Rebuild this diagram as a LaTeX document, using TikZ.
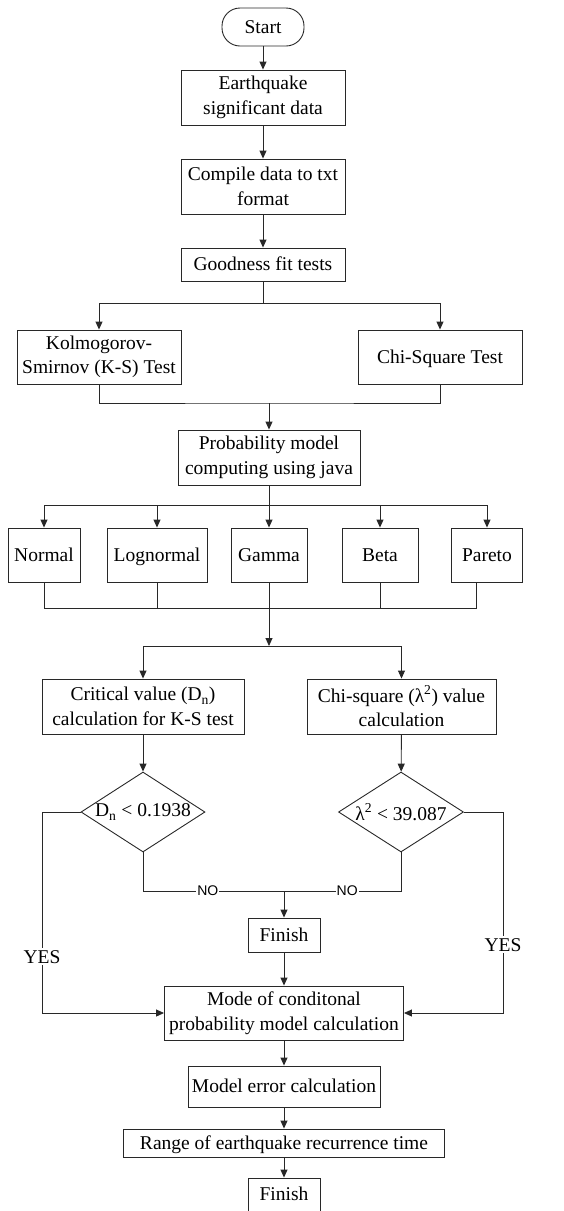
\documentclass[tikz,border=0pt]{standalone}
\usepackage{fontspec}
\setmainfont{Liberation Serif}
\newfontfamily\nofont{Liberation Sans}
\usepackage{tikz}
\usetikzlibrary{arrows.meta,shapes.geometric}
\definecolor{LineGray}{RGB}{40,40,40}
\tikzset{
  box/.style={draw=LineGray,line width=0.9pt,rectangle,inner sep=0pt,align=center,
    font=\fontsize{19.5}{24.5}\selectfont},
  one/.style={text height=13pt,text depth=1pt},
  term/.style={box,one,rounded corners=18pt},
  dec/.style={draw=LineGray,line width=0.9pt,diamond,inner sep=0pt,
    font=\fontsize{19.5}{24.5}\selectfont},
  link/.style={draw=LineGray,line width=0.9pt},
  arr/.style={link,-{Triangle[length=8pt,width=7pt]}},
  no/.style={fill=white,inner sep=1pt,font=\nofont\fontsize{14}{14}\selectfont},
  yes/.style={fill=white,inner sep=2pt,font=\fontsize{19.5}{24.5}\selectfont},
}

\begin{document}
\begin{tikzpicture}[x=1pt,y=-1pt]
\useasboundingbox (0,0) rectangle (563,1211);
\node[term,minimum width=82pt,minimum height=38pt] (start) at (263,27) {Start};
\node[box,minimum width=164pt,minimum height=55pt] (earth) at (263,97.5) {Earthquake\\significant data};
\node[box,minimum width=164pt,minimum height=55pt] (compile) at (263,186.5) {Compile data to txt\\format};
\node[box,one,minimum width=164pt,minimum height=33pt] (good) at (263,264.5) {Goodness fit tests};
\node[box,minimum width=164pt,minimum height=54pt] (ks) at (99,357) {Kolmogorov-\\Smirnov (K-S) Test};
\node[box,one,minimum width=164pt,minimum height=54pt] (chi) at (440,357) {Chi-Square Test};
\node[box,minimum width=182pt,minimum height=55pt] (prob) at (269,457.5) {Probability model\\computing using java};
\node[box,one,minimum width=72pt,minimum height=54pt] (normal) at (44,555) {Normal};
\node[box,one,minimum width=100pt,minimum height=54pt] (lognormal) at (157,555) {Lognormal};
\node[box,one,minimum width=76pt,minimum height=54pt] (gamma) at (269,555) {Gamma};
\node[box,one,minimum width=76pt,minimum height=54pt] (beta) at (380,555) {Beta};
\node[box,one,minimum width=71pt,minimum height=54pt] (pareto) at (487,555) {Pareto};
\node[box,minimum width=202pt,minimum height=55pt] (crit) at (143,706.5) {Critical value (D\textsubscript{n})\\calculation for K-S test};
\node[box,minimum width=189pt,minimum height=55pt] (chival) at (401.5,706.5) {Chi-square (λ\textsuperscript{2}) value\\calculation};
\node[dec,minimum width=124pt,minimum height=80pt] (d1) at (143,812) {\makebox[0pt]{D\textsubscript{n} < 0.1938}};
\node[dec,minimum width=125pt,minimum height=80pt] (d2) at (401,812) {\makebox[0pt]{λ\textsuperscript{2} < 39.087}};
\node[box,one,minimum width=72pt,minimum height=34pt] (fin1) at (284,935) {Finish};
\node[box,minimum width=239pt,minimum height=54pt] (mode) at (284,1013) {Mode of conditonal\\probability model calculation};
\node[box,one,minimum width=192pt,minimum height=41pt] (err) at (284,1086.5) {Model error calculation};
\node[box,one,minimum width=321pt,minimum height=28pt] (range) at (284,1143) {Range of earthquake recurrence time};
\node[box,one,minimum width=72pt,minimum height=33pt] (fin2) at (284,1194.5) {Finish};

\coordinate (gsplit) at (263,303);
\coordinate (tmerge) at (269,403);
\coordinate (psplit) at (269,505);
\coordinate (dmerge) at (269,608);
\coordinate (csplit) at (269,646);
\coordinate (lbend) at (42,1013);
\coordinate (rbend) at (503,1013);
\coordinate (njoin) at (284,891);

\draw[arr] (start) -- (earth);
\draw[arr] (earth) -- (compile);
\draw[arr] (compile) -- (good);
\draw[link] (good) -- (gsplit);
\draw[arr] (gsplit) -| (ks);
\draw[arr] (gsplit) -| (chi);
\draw[link] (ks) |- (tmerge) -| (chi);
\draw[arr] (tmerge) -- (prob);
\draw[link] (prob) -- (psplit);
\foreach \m in {normal,lognormal,gamma,beta,pareto}
  \draw[arr] (psplit) -| (\m);
\foreach \m in {normal,lognormal,gamma,beta}
  \draw[link] (\m) |- (dmerge);
\draw[link] ([xshift=-11pt]pareto.south) |- (dmerge);
\draw[arr] (dmerge) -- (csplit);
\draw[arr] (csplit) -| (crit);
\draw[arr] (csplit) -| (chival);
\draw[arr] (crit) -- (d1);
\draw[arr] (chival) -- (d2);
\draw[arr] (d1.west) -| (lbend) node[yes,pos=0.86] {YES} -- (mode.west);
\draw[arr] (d2.east) -| (rbend) node[yes,pos=0.83] {YES} -- (mode.east);
\draw[link] (d1.south) |- (njoin) node[no,pos=0.73] {NO};
\draw[link] (d2.south) |- (njoin) node[no,pos=0.73] {NO};
\draw[arr] (njoin) -- (fin1);
\draw[arr] (fin1) -- (mode);
\draw[arr] (mode) -- (err);
\draw[arr] (err) -- (range);
\draw[arr] (range) -- (fin2);
\end{tikzpicture}
\end{document}
